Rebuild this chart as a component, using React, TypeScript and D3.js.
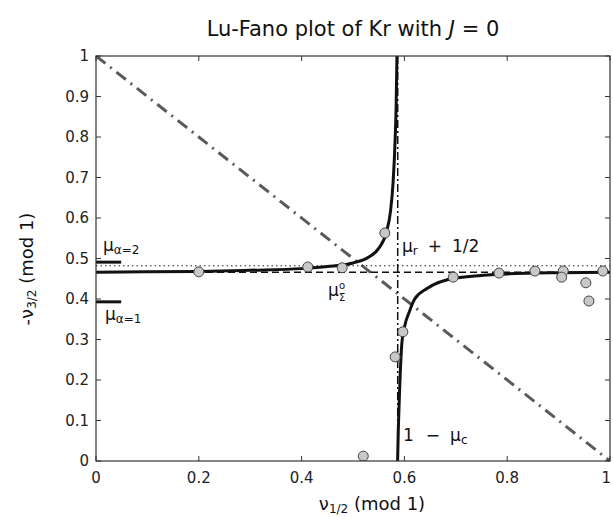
import React from "react";
import * as d3 from "d3";

// ---- data ----
const xTickValues = [0, 0.2, 0.4, 0.6, 0.8, 1];
const xTickLabels = ["0", "0.2", "0.4", "0.6", "0.8", "1"];
const yTickValues = [0, 0.1, 0.2, 0.3, 0.4, 0.5, 0.6, 0.7, 0.8, 0.9, 1];
const yTickLabels = ["0", "0.1", "0.2", "0.3", "0.4", "0.5", "0.6", "0.7", "0.8", "0.9", "1"];

// experimental points (circles)
const pointX = [0.2, 0.412, 0.479, 0.562, 0.597, 0.582, 0.52, 0.695, 0.784, 0.854, 0.909, 0.906, 0.953, 0.959, 0.986];
const pointY = [0.467, 0.479, 0.477, 0.563, 0.319, 0.257, 0.012, 0.454, 0.464, 0.469, 0.469, 0.454, 0.44, 0.395, 0.469];

// theoretical curve, left branch (below the pole) and right branch (above the pole)
const leftBranchX = [0, 0.1, 0.2, 0.3, 0.4, 0.45, 0.5, 0.53, 0.55, 0.565, 0.573, 0.578, 0.582, 0.584, 0.5855];
const leftBranchY = [0.466, 0.467, 0.468, 0.471, 0.475, 0.48, 0.489, 0.503, 0.525, 0.565, 0.617, 0.688, 0.794, 0.88, 1.0];
const rightBranchX = [0.5868, 0.588, 0.59, 0.595, 0.6, 0.61, 0.62, 0.644, 0.7, 0.8, 0.9, 1.0];
const rightBranchY = [0.0, 0.07, 0.15, 0.29, 0.33, 0.37, 0.4, 0.426, 0.452, 0.462, 0.465, 0.466];

// reference lines
const muSigma = 0.466; // dashed horizontal
const muRHalf = 0.482; // dotted horizontal
const oneMinusMuC = 0.587; // dashed vertical
const diagX = [0, 1];
const diagY = [1, 0];

// short level markers at left edge
const levelMarkerY = [0.491, 0.393];
const levelMarkerX = [0, 0.049];

const FONT = "'DejaVu Sans', 'Liberation Sans', Arial, sans-serif";

export default function App() {
  const W = 613;
  const H = 517;
  const L = 96, R = 610, T = 56, B = 461;
  const x = d3.scaleLinear().domain([0, 1]).range([L, R]);
  const y = d3.scaleLinear().domain([0, 1]).range([B, T]);

  const line = d3
    .line<[number, number]>()
    .x((d) => x(d[0]))
    .y((d) => y(d[1]))
    .curve(d3.curveMonotoneX);

  const leftPath = line(leftBranchX.map((v, i) => [v, leftBranchY[i]]) as [number, number][]) || "";
  const rightPath = line(rightBranchX.map((v, i) => [v, rightBranchY[i]]) as [number, number][]) || "";

  const tickLen = 5;

  return (
    <svg
      width={W}
      height={H}
      style={{ position: "absolute", left: 0, top: 0, background: "#fff" }}
      fontFamily={FONT}
    >
      <defs>
        <clipPath id="plotClip">
          <rect x={L} y={T} width={R - L} height={B - T} />
        </clipPath>
      </defs>
      <rect x={0} y={0} width={W} height={H} fill="#fff" />

      {/* title */}
      <text x={(L + R) / 2} y={36} textAnchor="middle" fontSize={21} fill="#111">
        Lu-Fano plot of Kr with <tspan fontStyle="italic">J</tspan> = 0
      </text>

      <g clipPath="url(#plotClip)">
        {/* diagonal dash-dot */}
        <line
          x1={x(diagX[0])}
          y1={y(diagY[0])}
          x2={x(diagX[1])}
          y2={y(diagY[1])}
          stroke="#5a5a5a"
          strokeWidth={3}
          strokeDasharray="12,6,2,6"
        />
        {/* dotted horizontal mu_r + 1/2 */}
        <line x1={L} x2={R} y1={y(muRHalf)} y2={y(muRHalf)} stroke="#222" strokeWidth={1} strokeDasharray="1.5,3" />
        {/* dashed horizontal mu_sigma */}
        <line x1={L} x2={R} y1={y(muSigma)} y2={y(muSigma)} stroke="#111" strokeWidth={1.5} strokeDasharray="7,4" />
        {/* dashed vertical 1 - mu_c */}
        <line
          x1={x(oneMinusMuC)}
          x2={x(oneMinusMuC)}
          y1={T}
          y2={B}
          stroke="#111"
          strokeWidth={1.5}
          strokeDasharray="8,3,2,3"
        />
        {/* curve */}
        <path d={leftPath} fill="none" stroke="#111" strokeWidth={3} />
        <path d={rightPath} fill="none" stroke="#111" strokeWidth={3} />

        {/* level markers */}
        {levelMarkerY.map((v, i) => (
          <line
            key={"lm" + i}
            x1={x(levelMarkerX[0])}
            x2={x(levelMarkerX[1])}
            y1={y(v)}
            y2={y(v)}
            stroke="#111"
            strokeWidth={3}
          />
        ))}

        {/* points */}
        {pointX.map((v, i) => (
          <circle
            key={"p" + i}
            cx={x(v)}
            cy={y(pointY[i])}
            r={5}
            fill="#c8c8c8"
            stroke="#444"
            strokeWidth={1}
          />
        ))}
      </g>

      {/* axes box */}
      <rect x={L} y={T} width={R - L} height={B - T} fill="none" stroke="#333" strokeWidth={1.2} />

      {/* x ticks */}
      {xTickValues.map((v, i) => {
        const last = i === xTickValues.length - 1;
        return (
          <g key={"xt" + i}>
            <line x1={x(v)} x2={x(v)} y1={B} y2={B - tickLen} stroke="#333" />
            <line x1={x(v)} x2={x(v)} y1={T} y2={T + tickLen} stroke="#333" />
            <text
              x={last ? x(v) + 1 : x(v)}
              y={B + 22}
              textAnchor={last ? "end" : "middle"}
              fontSize={15}
              fill="#222"
            >
              {xTickLabels[i]}
            </text>
          </g>
        );
      })}
      {/* y ticks */}
      {yTickValues.map((v, i) => (
        <g key={"yt" + i}>
          <line x1={L} x2={L + tickLen} y1={y(v)} y2={y(v)} stroke="#333" />
          <line x1={R} x2={R - tickLen} y1={y(v)} y2={y(v)} stroke="#333" />
          <text x={L - 7} y={y(v) + 5} textAnchor="end" fontSize={15} fill="#222">
            {yTickLabels[i]}
          </text>
        </g>
      ))}

      {/* axis labels */}
      <text x={372} y={510} textAnchor="middle" fontSize={18} fill="#111">
        ν<tspan fontSize={12} dy={3}>1/2</tspan>
        <tspan dy={-3}> (mod 1)</tspan>
      </text>
      <text
        transform={`translate(33, 269) rotate(-90)`}
        textAnchor="middle"
        fontSize={18}
        fill="#111"
      >
        -ν<tspan fontSize={12} dy={3}>3/2</tspan>
        <tspan dy={-3}> (mod 1)</tspan>
      </text>

      {/* annotations */}
      <text x={103} y={251} fontSize={17} fill="#111">
        μ<tspan fontSize={12} dy={3}>α=2</tspan>
      </text>
      <text x={105} y={320} fontSize={17} fill="#111">
        μ<tspan fontSize={12} dy={3}>α=1</tspan>
      </text>
      <text x={328} y={296} fontSize={17} fill="#111">
        μ
      </text>
      <text x={339} y={301} fontSize={10} fill="#111">
        Σ
      </text>
      <text x={339} y={289} fontSize={10} fill="#111">
        o
      </text>
      <text x={402} y={252} fontSize={17} fill="#111">
        μ<tspan fontSize={12} dy={3}>r</tspan>
        <tspan dy={-3} dx={10}>+</tspan>
        <tspan dx={10}>1/2</tspan>
      </text>
      <text x={403} y={441} fontSize={17} fill="#111">
        1<tspan dx={12}>−</tspan>
        <tspan dx={10}>μ</tspan>
        <tspan fontSize={12} dy={3}>c</tspan>
      </text>
    </svg>
  );
}
